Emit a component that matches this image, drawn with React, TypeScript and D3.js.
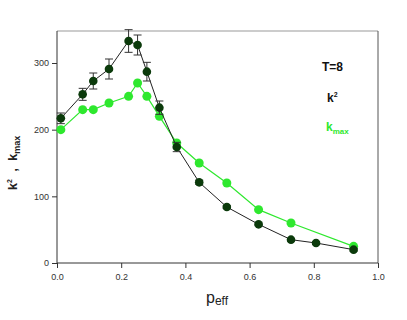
import * as d3 from "d3";
import { useEffect, useRef } from "react";

// p_eff values for both series
const pK2 = [0.012, 0.08, 0.113, 0.162, 0.223, 0.251, 0.28, 0.319, 0.373, 0.443, 0.529, 0.628, 0.729, 0.807, 0.924];
const k2 = [217, 253, 273, 291, 333, 327, 287, 233, 174, 121, 84, 58, 35, 30, 20];
const k2Err = [8, 9, 12, 15, 17, 15, 14, 10, 7, 3, 2, 2, 2, 2, 2];

const pKmax = [0.012, 0.08, 0.113, 0.162, 0.223, 0.251, 0.28, 0.319, 0.373, 0.443, 0.529, 0.628, 0.729, 0.924];
const kmax = [200, 230, 230, 240, 250, 270, 250, 220, 180, 150, 120, 80, 60, 25];

const xTicks = [0, 0.2, 0.4, 0.6, 0.8, 1.0];
const yTicks = [0, 100, 200, 300];

const darkColor = "#0b3a0b";
const greenColor = "#2ee82e";

function App() {
    const svgRef = useRef(null);

    useEffect(() => {
        const svg = d3.select(svgRef.current);
        svg.selectAll("*").remove();

        const area = { left: 57, right: 378, top: 31, bottom: 263 };

        const scX = d3.scaleLinear().domain([0, 1]).range([area.left, area.right]);
        const scY = d3.scaleLinear().domain([0, 348]).range([area.bottom, area.top]);

        // frame: top and right lighter
        svg.append("line")
            .attr("x1", area.left).attr("x2", area.right)
            .attr("y1", area.top).attr("y2", area.top)
            .style("stroke", "#999").style("stroke-width", 1);
        svg.append("line")
            .attr("x1", area.right).attr("x2", area.right)
            .attr("y1", area.top).attr("y2", area.bottom)
            .style("stroke", "#555").style("stroke-width", 1);

        const axisX = d3.axisBottom(scX)
            .tickValues(xTicks)
            .tickFormat(d3.format(".1f"))
            .tickSize(5)
            .tickSizeOuter(0);
        const axisY = d3.axisLeft(scY)
            .tickValues(yTicks)
            .tickFormat(d3.format("d"))
            .tickSize(5)
            .tickSizeOuter(0);

        const gx = svg.append("g")
            .attr("transform", `translate(0, ${area.bottom})`)
            .call(axisX);
        gx.select(".domain").attr("d", `M${area.left},0H${area.right}`).style("stroke", "#333");
        gx.selectAll("line").style("stroke", "#333");
        gx.selectAll("text")
            .attr("dy", "1.0em")
            .style("font-family", "Liberation Sans, Arial, sans-serif")
            .style("font-size", "9px")
            .style("fill", "#333");

        const gy = svg.append("g")
            .attr("transform", `translate(${area.left}, 0)`)
            .call(axisY);
        gy.select(".domain").attr("d", `M0,${area.bottom}V${area.top}`).style("stroke", "#333");
        gy.selectAll("line").style("stroke", "#333");
        gy.selectAll("text")
            .attr("x", -8)
            .style("font-family", "Liberation Sans, Arial, sans-serif")
            .style("font-size", "9px")
            .style("fill", "#333");

        const k2Data = pK2.map((p, i) => ({ p: p, v: k2[i], e: k2Err[i] }));
        const kmaxData = pKmax.map((p, i) => ({ p: p, v: kmax[i] }));

        const line = d3.line()
            .x(d => scX(d.p))
            .y(d => scY(d.v));

        // green series
        svg.append("path")
            .datum(kmaxData)
            .attr("d", line)
            .style("fill", "none")
            .style("stroke", greenColor)
            .style("stroke-width", 1.2);

        svg.selectAll(".dot-kmax")
            .data(kmaxData)
            .enter()
            .append("circle")
            .attr("class", "dot-kmax")
            .attr("cx", d => scX(d.p))
            .attr("cy", d => scY(d.v))
            .attr("r", 4.5)
            .style("fill", greenColor);

        // dark series
        svg.append("path")
            .datum(k2Data)
            .attr("d", line)
            .style("fill", "none")
            .style("stroke", "#222")
            .style("stroke-width", 1);

        const cap = 4;
        const err = svg.append("g").style("stroke", "#333").style("stroke-width", 1);
        k2Data.forEach(d => {
            const x = scX(d.p);
            const y1 = scY(d.v - d.e);
            const y2 = scY(d.v + d.e);
            err.append("line").attr("x1", x).attr("x2", x).attr("y1", y1).attr("y2", y2);
            err.append("line").attr("x1", x - cap).attr("x2", x + cap).attr("y1", y1).attr("y2", y1);
            err.append("line").attr("x1", x - cap).attr("x2", x + cap).attr("y1", y2).attr("y2", y2);
        });

        svg.selectAll(".dot-k2")
            .data(k2Data)
            .enter()
            .append("circle")
            .attr("class", "dot-k2")
            .attr("cx", d => scX(d.p))
            .attr("cy", d => scY(d.v))
            .attr("r", 4.3)
            .style("fill", darkColor);

        const font = "Liberation Sans, Arial, sans-serif";

        // legend texts
        svg.append("text")
            .attr("x", 322).attr("y", 71)
            .style("font-family", font).style("font-size", "12px").style("font-weight", "bold")
            .style("fill", "#111")
            .text("T=8");

        const tk2 = svg.append("text")
            .attr("x", 327).attr("y", 102)
            .style("font-family", font).style("font-size", "12px").style("font-weight", "bold")
            .style("fill", "#111");
        tk2.append("tspan").text("k");
        tk2.append("tspan").attr("dy", -5).style("font-size", "7px").text("2");

        const tkm = svg.append("text")
            .attr("x", 326).attr("y", 131)
            .style("font-family", font).style("font-size", "12px").style("font-weight", "bold")
            .style("fill", greenColor);
        tkm.append("tspan").text("k");
        tkm.append("tspan").attr("dy", 3).style("font-size", "8px").text("max");

        // axis titles
        const xt = svg.append("text")
            .attr("x", 217).attr("y", 303)
            .attr("text-anchor", "middle")
            .style("font-family", font).style("font-size", "16px")
            .style("fill", "#222");
        xt.append("tspan").text("p");
        xt.append("tspan").attr("dy", 2).style("font-size", "12px").text("eff");

        const yt = svg.append("text")
            .attr("transform", "translate(17, 163) rotate(-90)")
            .attr("text-anchor", "middle")
            .style("font-family", font).style("font-size", "13px").style("font-weight", "bold")
            .style("fill", "#222")
            .attr("xml:space", "preserve");
        yt.append("tspan").text("k");
        yt.append("tspan").attr("dy", -5).style("font-size", "7px").text("2");
        yt.append("tspan").attr("dy", 5).text("\u00a0 ,\u00a0 k");
        yt.append("tspan").attr("dy", 3).style("font-size", "9px").text("max");
    }, []);

    return (
        <svg
            ref={svgRef}
            width={407}
            height={320}
            style={{ position: "absolute", left: 0, top: 0, background: "#fff" }}
        ></svg>
    );
}

export default App;
